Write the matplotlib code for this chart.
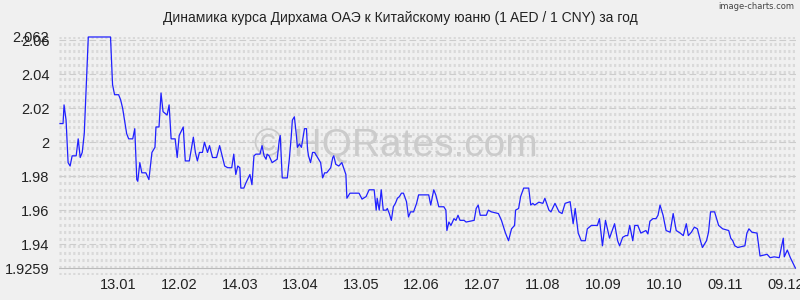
import matplotlib
matplotlib.use("Agg")
import matplotlib.pyplot as plt
import numpy as np

plt.rcParams['font.family'] = ['Liberation Sans', 'DejaVu Sans']

title = "Динамика курса Дирхама ОАЭ к Китайскому юаню (1 AED / 1 CNY) за год"

# day offset from the first quote (15.12), and rate
days = [0, 1.5, 2, 3, 4, 5, 6, 8, 9, 10, 11, 12, 14, 25, 26, 27, 29, 30, 31, 33,
        34, 36, 37, 38, 38.5, 39.5, 40.5, 42.5, 44, 45.5, 47, 47.5, 49, 50, 51, 53, 54, 55, 57, 58,
        59, 61, 62, 64, 66, 67, 68, 69, 70.5, 71.5, 73, 74, 75.5, 77.5, 79, 81.5, 83, 85, 86, 87,
        88, 89, 89.5, 91, 92, 94, 95, 96, 97, 99, 100, 101, 102, 102.5, 103.5, 105, 107.5, 108.5, 109, 110,
        112.5, 113.5, 114.5, 115, 116, 117, 117.5, 118.5, 119.5, 121, 122, 122.5, 123, 124, 125, 126, 127, 127.5, 129, 130,
        131, 132, 134, 135, 135.5, 136.5, 138, 139.5, 141.5, 142, 143.5, 148, 149.5, 151.5, 153, 155.5, 156.5, 157, 158, 159,
        160, 161.5, 162, 163, 164, 165, 166, 167, 168, 169, 170, 171.5, 172.5, 173.5, 175, 176.5, 177.5, 182.5, 183.5, 185,
        186, 187.5, 190, 191, 191.5, 192.5, 193.5, 195, 196, 197, 198, 200, 201, 203, 205, 206, 207, 208, 211, 212,
        213.5, 217, 218.5, 220.5, 222, 223.5, 225, 225.5, 227, 228, 229.5, 232, 233, 234, 235, 237, 239, 240, 242, 243,
        245, 247, 248.5, 250, 252.5, 254, 255, 256.5, 258, 260, 261, 263, 266, 267, 268.5, 270, 272, 274.5, 276, 277,
        278.5, 280, 281, 282, 283.5, 284.5, 286, 287.5, 290, 291, 292, 293.5, 295, 296, 297, 298.5, 300, 302, 303.5, 305,
        307, 308.5, 310, 311, 312.5, 314, 315.5, 317, 318, 320, 321, 322, 324, 326, 328, 331, 332, 333, 334, 335.5,
        339, 340, 341, 342.5, 345, 346.5, 350, 351.5, 353.5, 356, 358, 358.5, 360, 361.5, 363.5, 364]
rates = [2.011, 2.011, 2.022, 2.013, 1.988, 1.986, 1.992, 1.992, 2.002, 1.991, 1.994, 2.005, 2.062, 2.062, 2.034, 2.028, 2.028, 2.025, 2.020, 2.005,
         2.002, 2.002, 2.008, 1.978, 1.977, 1.988, 1.982, 1.982, 1.978, 1.994, 1.997, 2.009, 2.009, 2.029, 2.018, 2.016, 2.022, 2.002, 2.002, 1.991,
         2.004, 2.009, 1.989, 1.989, 2.003, 1.994, 1.989, 1.994, 1.994, 2.000, 1.994, 1.998, 1.991, 1.991, 1.998, 1.986, 1.985, 1.985, 1.993, 1.981,
         1.986, 1.985, 1.973, 1.973, 1.976, 1.981, 1.975, 1.992, 1.993, 1.993, 1.998, 1.992, 1.990, 1.993, 1.992, 1.988, 1.990, 2.001, 2.004, 1.979,
         1.979, 1.990, 2.004, 2.013, 2.015, 2.004, 1.997, 1.999, 1.997, 2.008, 2.008, 1.996, 1.992, 1.988, 1.994, 1.994, 1.992, 1.991, 1.988, 1.979,
         1.982, 1.982, 1.985, 1.991, 1.992, 1.987, 1.986, 1.988, 1.981, 1.967, 1.970, 1.970, 1.9665, 1.968, 1.972, 1.972, 1.960, 1.967, 1.960, 1.972,
         1.960, 1.960, 1.961, 1.958, 1.954, 1.962, 1.964, 1.967, 1.968, 1.970, 1.970, 1.965, 1.956, 1.959, 1.959, 1.964, 1.969, 1.969, 1.963, 1.972,
         1.969, 1.962, 1.962, 1.960, 1.948, 1.953, 1.951, 1.955, 1.954, 1.957, 1.954, 1.954, 1.953, 1.9535, 1.954, 1.961, 1.963, 1.957, 1.957, 1.960,
         1.959, 1.958, 1.954, 1.9465, 1.942, 1.949, 1.951, 1.960, 1.961, 1.968, 1.973, 1.973, 1.963, 1.964, 1.963, 1.9647, 1.964, 1.967, 1.960, 1.959,
         1.964, 1.959, 1.958, 1.964, 1.965, 1.952, 1.961, 1.9465, 1.942, 1.942, 1.949, 1.951, 1.951, 1.955, 1.939, 1.954, 1.9435, 1.952, 1.942, 1.939,
         1.944, 1.945, 1.945, 1.951, 1.942, 1.951, 1.951, 1.9465, 1.948, 1.946, 1.9535, 1.955, 1.955, 1.957, 1.963, 1.957, 1.948, 1.947, 1.958, 1.948,
         1.9465, 1.945, 1.952, 1.945, 1.947, 1.950, 1.949, 1.942, 1.938, 1.942, 1.947, 1.959, 1.959, 1.951, 1.949, 1.948, 1.9435, 1.942, 1.939, 1.938,
         1.939, 1.9465, 1.949, 1.947, 1.9465, 1.933, 1.934, 1.932, 1.9325, 1.932, 1.9435, 1.9325, 1.9365, 1.932, 1.927, 1.9259]

tick_days = [29, 59, 89, 119, 149, 179, 209, 239, 269, 299, 329, 359]
tick_labels = ["13.01", "12.02", "14.03", "13.04", "13.05", "12.06", "12.07",
               "11.08", "10.09", "10.10", "09.11", "09.12"]
y_ticks = [2.062, 2.06, 2.04, 2.02, 2.0, 1.98, 1.96, 1.94, 1.9259]
y_labels = ["2.062", "2.06", "2.04", "2.02", "2", "1.98", "1.96", "1.94", "1.9259"]

bg = "#f0f0f0"
fig = plt.figure(figsize=(8, 3), dpi=100, facecolor=bg)
ax = fig.add_axes([0.07375, 0.0833, 0.92125, 0.7934])
ax.set_facecolor(bg)
y_lo, y_hi = 1.9218, 2.062
ax.set_xlim(-0.5, 364.3)
ax.set_ylim(y_lo, y_hi)

# background pattern: dotted rows, dashed rows at the major ticks
for y in np.arange(y_hi, y_lo - 0.001, -0.0041):
    ax.axhline(y, color="#d9d9d9", lw=2.2, ls=(0, (0.7, 0.8)), zorder=0)
for y in [2.06, 2.04, 2.02, 2.0, 1.98, 1.96, 1.94]:
    ax.axhline(y, color="#cccccc", lw=0.8, ls=(0, (6, 3)), zorder=0.5)
ax.axhline(1.9259, color="#bbbbbb", lw=0.8, zorder=0.5)

ax.text(0.457, 0.54, "© HQRates.com", transform=ax.transAxes, ha="center", va="center",
        fontsize=28, color="#cbcbcb", zorder=1)

ax.plot(days, rates, color="#2020ff", lw=0.9, zorder=3, clip_on=False)

ax.set_xticks(tick_days)
ax.set_xticklabels(tick_labels)
ax.set_yticks(y_ticks)
ax.set_yticklabels(y_labels)
ax.tick_params(length=0, labelsize=10.5, colors="#222222")
ax.tick_params(axis="x", pad=2)
ax.tick_params(axis="y", pad=7)
for s in ax.spines.values():
    s.set_visible(False)

fig.text(0.5, 0.94, title, ha="center", va="center", fontsize=10, color="#222222")
fig.text(0.993, 0.977, "image-charts.com", ha="right", va="center", fontsize=6,
         color="#444444", family=["DejaVu Sans"])

fig.savefig("out.png", dpi=100, facecolor=bg)
